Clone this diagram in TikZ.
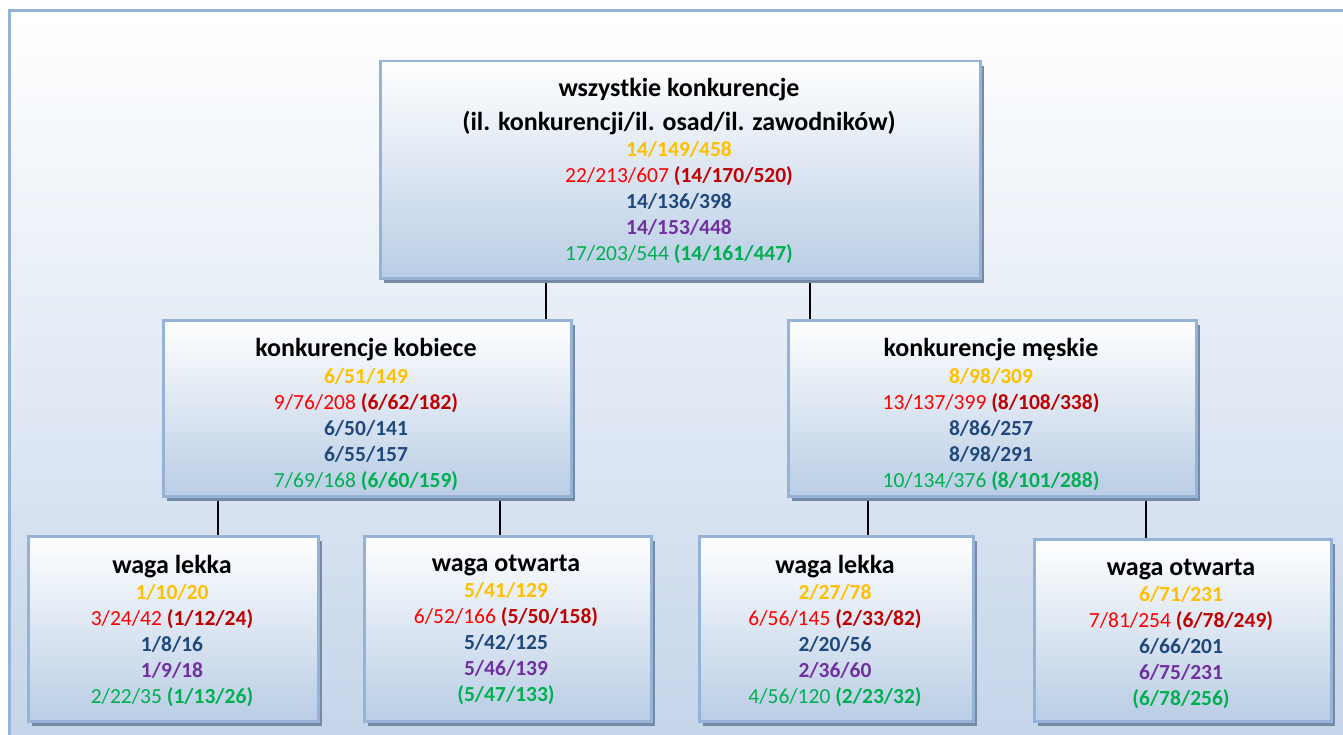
\documentclass[tikz,border=0pt]{standalone}
\usepackage{fontspec}
\setmainfont{Carlito}
\usetikzlibrary{shadows}
\definecolor{frameblue}{RGB}{149,179,215}
\definecolor{boxbot}{RGB}{185,205,229}
\definecolor{bgbot}{RGB}{197,213,234}
\definecolor{shadowc}{RGB}{118,138,168}
\definecolor{cyel}{RGB}{255,192,0}
\definecolor{cred}{RGB}{255,0,0}
\definecolor{cdred}{RGB}{192,0,0}
\definecolor{cblue}{RGB}{31,73,125}
\definecolor{cpurp}{RGB}{112,48,160}
\definecolor{cgreen}{RGB}{0,176,80}
\newcommand\numfont{\fontsize{21.5}{26}\selectfont}
\newcommand\ttlfont{\fontsize{26}{26}\selectfont\bfseries}
\newcommand\nY[1]{\textcolor{cyel}{\bfseries #1}}
\newcommand\nR[2]{\textcolor{cred}{#1} \textcolor{cdred}{\bfseries #2}}
\newcommand\nB[1]{\textcolor{cblue}{\bfseries #1}}
\newcommand\nP[1]{\textcolor{cpurp}{\bfseries #1}}
\newcommand\nG[2]{\textcolor{cgreen}{#1} \textcolor{cgreen}{\bfseries #2}}
\newcommand\nGb[1]{\textcolor{cgreen}{\bfseries #1}}
\pgfdeclarelayer{bg}
\pgfdeclarelayer{cn}
\pgfsetlayers{bg,cn,main}
\tikzset{
  box/.style={draw=frameblue, line width=2.5pt, top color=white, bottom color=boxbot,
    inner sep=0pt, anchor=north west,
    drop shadow={shadow xshift=4pt, shadow yshift=-5pt, fill=shadowc, opacity=1}},
  lbl/.style={align=center, inner sep=0pt, anchor=north, font=\numfont},
  conn/.style={draw=black, line width=1.3pt}
}
\begin{document}
\begin{tikzpicture}[x=1pt,y=-1pt]
\useasboundingbox (0,0) rectangle (1343,735);
\begin{pgfonlayer}{bg}
  \path[top color=white, bottom color=bgbot] (9,11) rectangle (1350,740);
  \draw[frameblue, line width=3pt] (1350,11) -- (9,11) -- (9,740);
\end{pgfonlayer}
% boxes
\node[box, minimum width=600pt, minimum height=217pt] (top) at (379,60) {};
\node[box, minimum width=408pt, minimum height=176pt] (ml) at (162,319) {};
\node[box, minimum width=408pt, minimum height=176pt] (mr) at (787,319) {};
\node[box, minimum width=290pt, minimum height=185pt] (b1) at (27,535) {};
\node[box, minimum width=287pt, minimum height=185pt] (b2) at (363,535) {};
\node[box, minimum width=274pt, minimum height=185pt] (b3) at (698,535) {};
\node[box, minimum width=297pt, minimum height=182pt] (b4) at (1033,538) {};
% labels
\node[lbl] (ttop) at (679,78) {{\ttlfont wszystkie konkurencje}\\[8pt]
  {\ttlfont (il. konkurencji/il. osad/il. zawodników)}\\
  \nY{14/149/458}\\ \nR{22/213/607}{(14/170/520)}\\ \nB{14/136/398}\\
  \nP{14/153/448}\\ \nG{17/203/544}{(14/161/447)}};
\node[lbl] (tml) at (366,338) {{\ttlfont konkurencje kobiece}\\[1pt]
  \nY{6/51/149}\\ \nR{9/76/208}{(6/62/182)}\\ \nB{6/50/141}\\
  \nB{6/55/157}\\ \nG{7/69/168}{(6/60/159)}};
\node[lbl] (tmr) at (991,338) {{\ttlfont konkurencje męskie}\\[1pt]
  \nY{8/98/309}\\ \nR{13/137/399}{(8/108/338)}\\ \nB{8/86/257}\\
  \nB{8/98/291}\\ \nG{10/134/376}{(8/101/288)}};
\node[lbl] (tb1) at (172,555) {{\ttlfont waga lekka}\\
  \nY{1/10/20}\\ \nR{3/24/42}{(1/12/24)}\\ \nB{1/8/16}\\
  \nP{1/9/18}\\ \nG{2/22/35}{(1/13/26)}};
\node[lbl] (tb2) at (506,555) {{\ttlfont waga otwarta}\\
  \nY{5/41/129}\\ \nR{6/52/166}{(5/50/158)}\\ \nB{5/42/125}\\
  \nP{5/46/139}\\ \nGb{(5/47/133)}};
\node[lbl] (tb3) at (835,555) {{\ttlfont waga lekka}\\
  \nY{2/27/78}\\ \nR{6/56/145}{(2/33/82)}\\ \nB{2/20/56}\\
  \nP{2/36/60}\\ \nG{4/56/120}{(2/23/32)}};
\node[lbl] (tb4) at (1181,559) {{\ttlfont waga otwarta}\\
  \nY{6/71/231}\\ \nR{7/81/254}{(6/78/249)}\\ \nB{6/66/201}\\
  \nP{6/75/231}\\ \nGb{(6/78/256)}};
% connectors
\coordinate (x1) at (546,0);
\coordinate (x2) at (810,0);
\coordinate (x3) at (218,0);
\coordinate (x4) at (500,0);
\coordinate (x5) at (868,0);
\coordinate (x6) at (1146,0);
\begin{pgfonlayer}{cn}
  \draw[conn] (top.south -| x1) -- (ml.north -| x1);
  \draw[conn] (top.south -| x2) -- (mr.north -| x2);
  \draw[conn] (ml.south -| x3) -- (b1.north -| x3);
  \draw[conn] (ml.south -| x4) -- (b2.north -| x4);
  \draw[conn] (mr.south -| x5) -- (b3.north -| x5);
  \draw[conn] (mr.south -| x6) -- (b4.north -| x6);
\end{pgfonlayer}
\end{tikzpicture}
\end{document}
